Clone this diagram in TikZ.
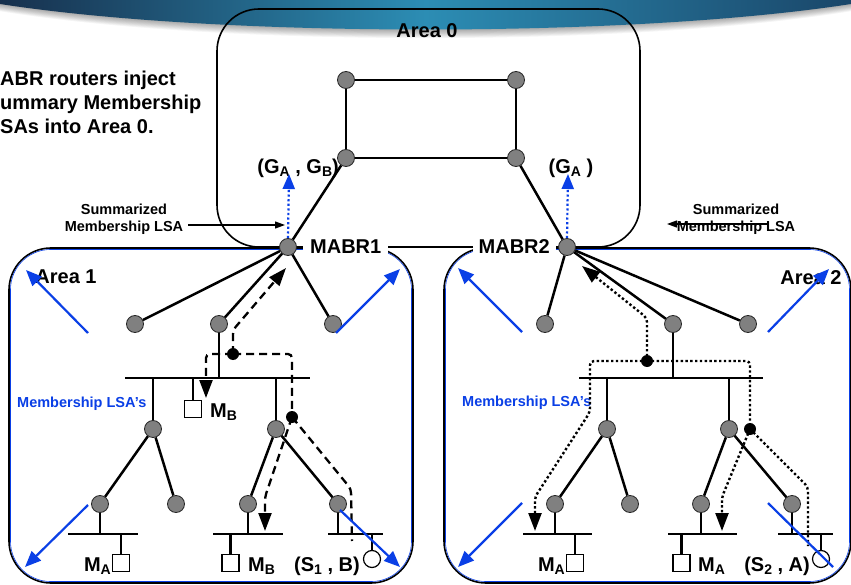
\documentclass[tikz,border=0pt]{standalone}
\usepackage{fontspec}
\setmainfont{Liberation Sans}
\usetikzlibrary{arrows.meta}

\definecolor{rtgray}{HTML}{808080}
\definecolor{lsablue}{HTML}{0A3FE6}
\definecolor{bandA}{HTML}{17304D}
\definecolor{bandB}{HTML}{2C8DB4}
\definecolor{bandC}{HTML}{1A4669}

% lowered group index such as the A in G_A
\newcommand{\lowix}[1]{\raisebox{-0.3ex}{\fontsize{14}{14}\selectfont #1}}

\tikzset{
  rt/.style={circle, fill=rtgray, draw=black!85, line width=0.8pt, minimum size=17pt, inner sep=0pt},
  host/.style={rectangle, fill=white, draw=black, line width=1.2pt, minimum size=17pt, inner sep=0pt},
  src/.style={circle, fill=white, draw=black, line width=1.2pt, minimum size=17pt, inner sep=0pt},
  jn/.style={circle, fill=black, minimum size=12pt, inner sep=0pt},
  link/.style={line width=2.5pt, black},
  bus/.style={line width=2.5pt, black},
  big/.style={font=\fontsize{20}{24}\selectfont\bfseries, inner sep=1pt},
  small/.style={font=\fontsize{14.5}{17}\selectfont\bfseries, align=center, inner sep=0pt},
  areabox/.style={draw=black, line width=1.6pt, rounded corners=42pt},
  arealine/.style={draw=lsablue, line width=0.6pt, rounded corners=40pt},
  lsa/.style={draw=lsablue, line width=2.2pt, -{Triangle[length=16pt,width=13pt]}},
  lsaplain/.style={draw=lsablue, line width=2.2pt},
  updot/.style={draw=lsablue, line width=2.2pt, dash pattern=on 2.2pt off 2.4pt, -{Triangle[length=15pt,width=12pt]}},
  dashpath/.style={line width=2.3pt, dash pattern=on 8pt off 5pt, rounded corners=4pt},
  dotpath/.style={line width=2.4pt, dash pattern=on 2.4pt off 2.4pt, rounded corners=4pt},
  tip/.style={-{Triangle[length=18pt,width=13pt]}},
  thinarrow/.style={line width=1.2pt, -{Triangle[length=10pt,width=7pt]}}
}

\begin{document}
\begin{tikzpicture}[x=1pt,y=-1pt]
\clip (0,0) rectangle (851,585);
\fill[white] (0,0) rectangle (851,585);

% header band and its soft shadow
\foreach \k in {1,...,9} {
  \fill[black, opacity=0.04] (0,-1) -- (0,{4+\k*0.8}) .. controls (220,{38+\k}) and (631,{38+\k}) .. (851,{4+\k*0.8}) -- (851,-1) -- cycle;
}
\shade[left color=bandA, right color=bandC, middle color=bandB]
  (0,-1) -- (0,4) .. controls (220,38) and (631,38) .. (851,4) -- (851,-1) -- cycle;

% areas
\draw[areabox] (217,9) rectangle (640,247);
\draw[areabox] (9,248) rectangle (413,583);
\draw[arealine] (10.5,249.5) rectangle (411.5,581.5);
\draw[areabox] (444,248) rectangle (851,583);
\draw[arealine] (445.5,249.5) rectangle (849.5,581.5);

\node[big] (a0lbl) at (427,31) {Area 0};

% ---------- Area 0 backbone ----------
\node[rt] (c1) at (346,80) {};
\node[rt] (c2) at (516,80) {};
\node[rt] (c3) at (346,158) {};
\node[rt] (c4) at (516,158) {};
\node[rt] (mabr1) at (288,247) {};
\node[rt] (mabr2) at (567,247) {};
\draw[link] (c1) -- (c2) -- (c4) -- (c3) -- (c1);
\draw[link] (c3) -- (mabr1);
\draw[link] (c4) -- (mabr2);

\node[big, fill=white, anchor=west, inner xsep=7pt] (m1lbl) at (303,247) {MABR1};
\node[big, fill=white, anchor=east, inner xsep=6pt] (m2lbl) at (556,247) {MABR2};

\node[big, anchor=east] (gab) at (340,168) {(G\lowix{A} , G\lowix{B})};
\node[big] (ga) at (571,168) {(G\lowix{A} )};

\coordinate (up1) at (289,174);
\coordinate (up2) at (568,174);
\draw[updot] (mabr1.north) -- (up1);
\draw[updot] (mabr2.north) -- (up2);

% summarized LSA notes
\node[small] (sumL) at (124,219) {Summarized\\Membership LSA};
\coordinate (sl1) at (188,225);
\coordinate (sl2) at (285,225);
\draw[thinarrow] (sl1) -- (sl2);
\node[small] (sumR) at (736,219) {Summarized\\Membership LSA};
\coordinate (sr1) at (767,224);
\coordinate (sr2) at (667,224);
\draw[thinarrow] (sr1) -- (sr2);

% note in the upper left corner
\node[big, anchor=base west, inner sep=0pt] (note1) at (0,86) {ABR routers inject};
\node[big, anchor=base west, inner sep=0pt] (note2) at (0,110) {ummary Membership};
\node[big, anchor=base west, inner sep=0pt] (note3) at (0,134) {SAs into Area 0.};

% ---------- Area 1 ----------
\node[big] (a1lbl) at (66,277) {Area 1};
\node[rt] (a1n1) at (135,324) {};
\node[rt] (a1n2) at (219,324) {};
\node[rt] (a1n3) at (333,324) {};
\draw[link] (mabr1) -- (a1n1);
\draw[link] (mabr1) -- (a1n2);
\draw[link] (mabr1) -- (a1n3);
\coordinate (b1L) at (125,378);
\coordinate (b1R) at (310,378);
\draw[bus] (b1L) -- (b1R);
\draw[link] (a1n2) -- (a1n2 |- b1L);
\node[host] (hB1) at (193,409) {};
\draw[link] (hB1 |- b1L) -- (hB1);
\node[big, anchor=west] (lblB1) at (209,412) {M\lowix{B}};
\node[rt] (a1m1) at (153,429) {};
\node[rt] (a1m2) at (276,429) {};
\draw[link] (a1m1 |- b1L) -- (a1m1);
\draw[link] (a1m2 |- b1L) -- (a1m2);
\node[rt] (a1l1) at (100,504) {};
\node[rt] (a1l2) at (176,504) {};
\node[rt] (a1l3) at (248,504) {};
\node[rt] (a1l4) at (338,504) {};
\draw[link] (a1m1) -- (a1l1);
\draw[link] (a1m1) -- (a1l2);
\draw[link] (a1m2) -- (a1l3);
\draw[link] (a1m2) -- (a1l4);
\coordinate (bAL) at (68,534);  \coordinate (bAR) at (138,534);
\coordinate (bBL) at (213,534); \coordinate (bBR) at (283,534);
\coordinate (bCL) at (328,534); \coordinate (bCR) at (383,534);
\draw[bus] (bAL) -- (bAR);
\draw[bus] (bBL) -- (bBR);
\draw[bus] (bCL) -- (bCR);
\draw[link] (a1l1) -- (a1l1 |- bAL);
\draw[link] (a1l3) -- (a1l3 |- bBL);
\draw[link] (a1l4) -- (a1l4 |- bCL);
\node[host] (hA1) at (121,563) {};
\node[host] (hB2) at (230.5,563) {};
\node[src] (s1) at (372,559) {};
\draw[link] (hA1 |- bAL) -- (hA1);
\draw[link] (hB2 |- bBL) -- (hB2);
\draw[link] (s1 |- bCL) -- (s1);
\node[big, anchor=east] (lblA1) at (112,566) {M\lowix{A}};
\node[big, anchor=west] (lblB2) at (247,566) {M\lowix{B}};
\node[big, anchor=east] (lblS1) at (361,566) {(S\lowix{1} , B)};
\node[small, text=lsablue, anchor=west] (mem1) at (17,404) {Membership LSA’s};

% join/prune flow in area 1
\coordinate (jA) at (233,354);
\coordinate (jB) at (292,417);
\coordinate (d1a) at (233,330);
\coordinate (d1b) at (286,268);
\coordinate (d2a) at (206,354);
\coordinate (d2b) at (206,398);
\coordinate (d3a) at (292,354);
\coordinate (d4a) at (265,497);
\coordinate (d4b) at (265,531);
\coordinate (d5a) at (351,489);
\coordinate (d5b) at (352,541);
\draw[dashpath, tip] (jA) -- (d1a) -- (d1b);
\draw[dashpath, tip] (jA) -- (d2a) -- (d2b);
\draw[dashpath] (jA) -- (d3a) -- (jB);
\draw[dashpath, tip] (jB) -- (d4a) -- (d4b);
\draw[dashpath] (jB) -- (d5a) -- (d5b);
\node[jn] (jAdot) at (jA) {};
\node[jn] (jBdot) at (jB) {};

% LSA flooding arrows in area 1
\coordinate (f1s) at (88,333);  \coordinate (f1e) at (26,270);
\coordinate (f2s) at (336,333); \coordinate (f2e) at (400,269);
\coordinate (f3s) at (88,505);  \coordinate (f3e) at (25,567);
\coordinate (f4s) at (340,510); \coordinate (f4e) at (400,567);
\draw[lsa] (f1s) -- (f1e);
\draw[lsa] (f2s) -- (f2e);
\draw[lsa] (f3s) -- (f3e);
\draw[lsa] (f4s) -- (f4e);

% ---------- Area 2 ----------
\node[big] (a2lbl) at (811,278) {Area 2};
\node[rt] (a2n1) at (545,324) {};
\node[rt] (a2n2) at (673,324) {};
\node[rt] (a2n3) at (748,324) {};
\draw[link] (mabr2) -- (a2n1);
\draw[link] (mabr2) -- (a2n2);
\draw[link] (mabr2) -- (a2n3);
\coordinate (b2L) at (579,378);
\coordinate (b2R) at (763,378);
\draw[bus] (b2L) -- (b2R);
\draw[link] (a2n2) -- (a2n2 |- b2L);
\node[rt] (a2m1) at (607,429) {};
\node[rt] (a2m2) at (729,429) {};
\draw[link] (a2m1 |- b2L) -- (a2m1);
\draw[link] (a2m2 |- b2L) -- (a2m2);
\node[rt] (a2l1) at (555,504) {};
\node[rt] (a2l2) at (630,504) {};
\node[rt] (a2l3) at (701,504) {};
\node[rt] (a2l4) at (792,504) {};
\draw[link] (a2m1) -- (a2l1);
\draw[link] (a2m1) -- (a2l2);
\draw[link] (a2m2) -- (a2l3);
\draw[link] (a2m2) -- (a2l4);
\coordinate (bDL) at (523,534); \coordinate (bDR) at (592,534);
\coordinate (bEL) at (668,534); \coordinate (bER) at (737,534);
\coordinate (bFL) at (778,534); \coordinate (bFR) at (833,534);
\draw[bus] (bDL) -- (bDR);
\draw[bus] (bEL) -- (bER);
\draw[bus] (bFL) -- (bFR);
\draw[link] (a2l1) -- (a2l1 |- bDL);
\draw[link] (a2l3) -- (a2l3 |- bEL);
\draw[link] (a2l4) -- (a2l4 |- bFL);
\node[host] (hA2) at (575,563) {};
\node[host] (hA3) at (681.5,563) {};
\node[src] (s2) at (821,559) {};
\draw[link] (hA2 |- bDL) -- (hA2);
\draw[link] (hA3 |- bEL) -- (hA3);
\draw[link] (s2 |- bFL) -- (s2);
\node[big, anchor=east] (lblA2) at (566,566) {M\lowix{A}};
\node[big, anchor=west] (lblA3) at (697,566) {M\lowix{A}};
\node[big, anchor=east] (lblS2) at (811,566) {(S\lowix{2} , A)};
\node[small, text=lsablue, anchor=west] (mem2) at (462,403) {Membership LSA’s};

% join/prune flow in area 2
\coordinate (jC) at (647,361);
\coordinate (jD) at (750,429);
\coordinate (e1a) at (647,318);
\coordinate (e1b) at (582,266);
\coordinate (e2a) at (590,361);
\coordinate (e2b) at (590,412);
\coordinate (e2c) at (535,497);
\coordinate (e2d) at (535,531);
\coordinate (e3a) at (750,361);
\coordinate (e4a) at (722,497);
\coordinate (e4b) at (722,531);
\coordinate (e5a) at (808,487);
\coordinate (e5b) at (808,546);
\draw[dotpath, tip] (jC) -- (e1a) -- (e1b);
\draw[dotpath, tip] (jC) -- (e2a) -- (e2b) -- (e2c) -- (e2d);
\draw[dotpath] (jC) -- (e3a) -- (jD);
\draw[dotpath, tip] (jD) -- (e4a) -- (e4b);
\draw[dotpath] (jD) -- (e5a) -- (e5b);
\node[jn] (jCdot) at (jC) {};
\node[jn] (jDdot) at (jD) {};

% LSA flooding arrows in area 2
\coordinate (g1s) at (522,332); \coordinate (g1e) at (458,268);
\coordinate (g2s) at (768,332); \coordinate (g2e) at (829,269);
\coordinate (g3s) at (522,503); \coordinate (g3e) at (458,567);
\coordinate (g4s) at (768,503); \coordinate (g4e) at (833,567);
\draw[lsa] (g1s) -- (g1e);
\draw[lsa] (g2s) -- (g2e);
\draw[lsa] (g3s) -- (g3e);
\draw[lsaplain] (g4s) -- (g4e);
\end{tikzpicture}
\end{document}
